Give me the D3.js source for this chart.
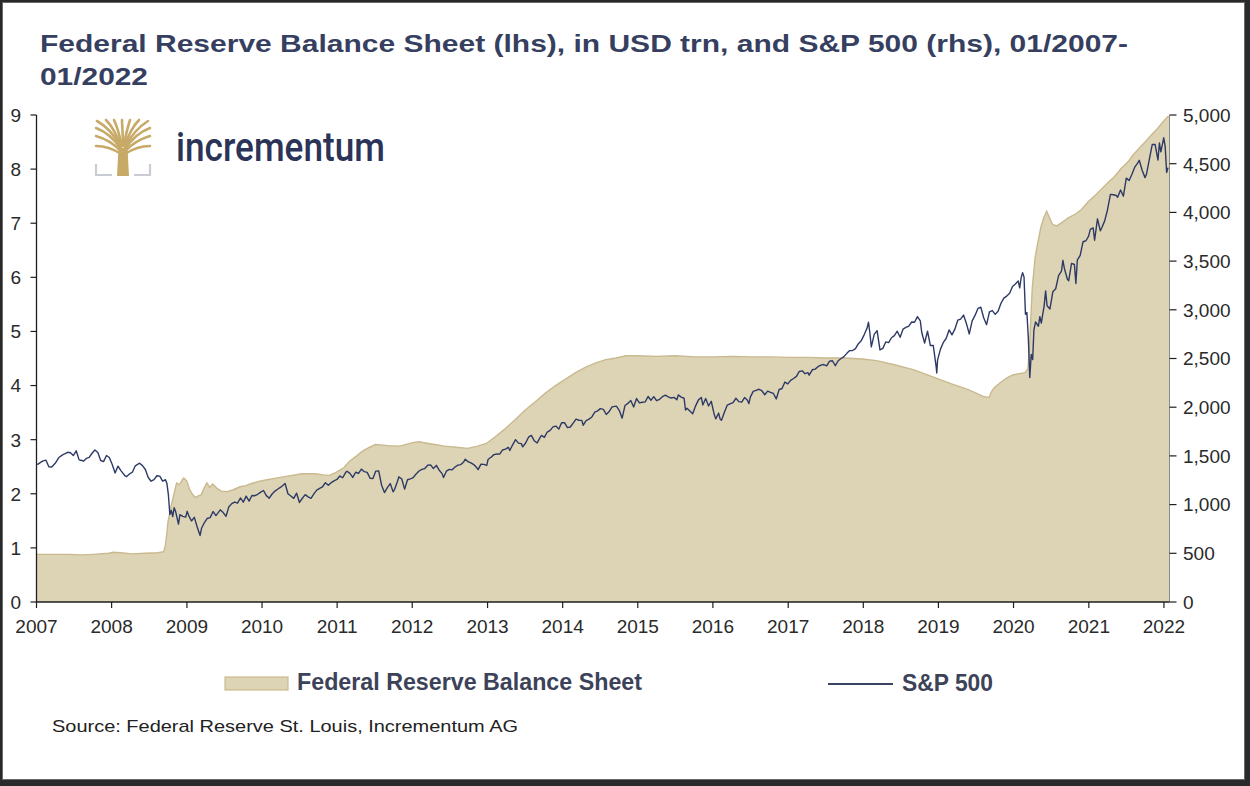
<!DOCTYPE html>
<html>
<head>
<meta charset="utf-8">
<script src="https://cdn.jsdelivr.net/npm/d3@7"></script>
<style>
  html, body { margin: 0; padding: 0; background: #fff; }
  svg { display: block; }
</style>
</head>
<body>
<svg id="chart" width="1250" height="786"></svg>
<script>
// ---------------- DATA ----------------
const titleLines = ["Federal Reserve Balance Sheet (lhs), in USD trn, and S&P 500 (rhs), 01/2007-", "01/2022"];
const seriesNames = ["Federal Reserve Balance Sheet", "S&P 500"];
const sourceText = "Source: Federal Reserve St. Louis, Incrementum AG";
const logoText = "incrementum";

const leftTicks = [0, 1, 2, 3, 4, 5, 6, 7, 8, 9];
const rightTicks = [0, 500, 1000, 1500, 2000, 2500, 3000, 3500, 4000, 4500, 5000];
const yearTicks = [2007, 2008, 2009, 2010, 2011, 2012, 2013, 2014, 2015, 2016, 2017, 2018, 2019, 2020, 2021, 2022];

// Federal Reserve balance sheet, USD trn (lhs)
const fedData = [
["2007-01-03",0.88],["2007-03-07",0.88],["2007-06-06",0.88],["2007-08-15",0.87],["2007-10-03",0.88],["2007-12-19",0.90],
["2008-01-09",0.92],["2008-02-13",0.91],["2008-04-09",0.89],["2008-06-11",0.90],["2008-08-13",0.91],["2008-09-10",0.93],
["2008-09-17",1.02],["2008-09-24",1.22],["2008-10-01",1.48],["2008-10-15",1.75],["2008-10-29",1.98],["2008-11-12",2.20],
["2008-11-26",2.17],["2008-12-10",2.26],["2008-12-17",2.29],["2008-12-31",2.24],["2009-01-14",2.08],["2009-01-28",1.99],
["2009-02-11",1.93],["2009-02-25",1.96],["2009-03-11",1.98],["2009-03-25",2.10],["2009-04-08",2.20],["2009-04-22",2.12],
["2009-05-06",2.18],["2009-05-27",2.10],["2009-06-17",2.05],["2009-07-15",2.04],["2009-08-12",2.07],["2009-09-16",2.13],
["2009-10-14",2.15],["2009-11-11",2.19],["2009-12-16",2.23],["2010-01-13",2.25],["2010-03-10",2.29],["2010-05-12",2.33],
["2010-07-14",2.37],["2010-09-15",2.37],["2010-10-27",2.35],["2010-11-24",2.34],["2010-12-29",2.40],["2011-02-02",2.48],
["2011-03-02",2.60],["2011-04-06",2.70],["2011-05-04",2.79],["2011-06-08",2.86],["2011-07-06",2.91],["2011-09-07",2.89],
["2011-11-02",2.88],["2011-12-28",2.94],["2012-02-01",2.96],["2012-04-04",2.92],["2012-06-06",2.88],["2012-08-01",2.86],
["2012-09-26",2.84],["2012-11-14",2.88],["2012-12-26",2.93],["2013-02-06",3.05],["2013-03-27",3.20],["2013-05-15",3.37],
["2013-07-03",3.55],["2013-08-21",3.70],["2013-10-09",3.86],["2013-11-27",4.00],["2014-01-15",4.12],["2014-03-05",4.24],
["2014-04-23",4.34],["2014-06-11",4.42],["2014-07-30",4.48],["2014-09-17",4.51],["2014-11-05",4.55],["2014-12-31",4.55],
["2015-04-01",4.54],["2015-07-01",4.55],["2015-10-07",4.53],["2016-01-06",4.53],["2016-04-06",4.54],["2016-07-06",4.53],
["2016-10-05",4.53],["2017-01-04",4.52],["2017-04-05",4.52],["2017-07-05",4.51],["2017-10-04",4.51],["2017-12-27",4.49],
["2018-03-07",4.46],["2018-06-06",4.38],["2018-09-05",4.29],["2018-12-05",4.16],["2019-03-06",4.03],["2019-05-29",3.92],
["2019-08-07",3.80],["2019-09-04",3.78],["2019-09-18",3.90],["2019-10-02",3.97],["2019-11-06",4.08],["2019-12-04",4.15],
["2019-12-31",4.20],["2020-01-29",4.22],["2020-02-26",4.24],["2020-03-11",4.31],["2020-03-18",4.67],["2020-03-25",5.25],
["2020-04-01",5.80],["2020-04-15",6.37],["2020-04-29",6.66],["2020-05-13",6.93],["2020-05-27",7.10],["2020-06-10",7.22],
["2020-06-24",7.10],["2020-07-08",6.98],["2020-07-29",6.95],["2020-08-26",7.02],["2020-09-23",7.10],["2020-10-28",7.17],
["2020-11-25",7.25],["2020-12-30",7.40],["2021-02-03",7.52],["2021-03-03",7.63],["2021-04-07",7.76],["2021-05-05",7.86],
["2021-06-09",8.02],["2021-07-07",8.12],["2021-08-04",8.26],["2021-09-08",8.41],["2021-10-06",8.52],["2021-11-03",8.64],
["2021-12-01",8.75],["2021-12-29",8.88],["2022-01-19",8.97]
];

// S&P 500 index level (rhs)
const spxData = [
["2007-01-05",1410],["2007-01-19",1431],["2007-02-02",1449],["2007-02-16",1456],["2007-03-02",1388],["2007-03-16",1386],
["2007-04-02",1424],["2007-04-20",1484],["2007-05-04",1505],["2007-05-18",1522],["2007-06-01",1537],["2007-06-15",1533],
["2007-06-29",1503],["2007-07-13",1552],["2007-07-27",1459],["2007-08-10",1453],["2007-08-17",1445],["2007-08-31",1474],
["2007-09-14",1484],["2007-09-28",1527],["2007-10-12",1561],["2007-10-26",1535],["2007-11-09",1453],["2007-11-23",1441],
["2007-12-07",1504],["2007-12-21",1484],
["2008-01-04",1411],["2008-01-18",1325],["2008-02-01",1395],["2008-02-15",1349],["2008-03-07",1294],["2008-03-14",1288],
["2008-03-28",1315],["2008-04-11",1332],["2008-04-25",1398],["2008-05-16",1425],["2008-05-30",1400],["2008-06-13",1360],
["2008-06-27",1278],["2008-07-11",1240],["2008-07-25",1257],["2008-08-08",1296],["2008-08-22",1292],["2008-09-05",1242],
["2008-09-19",1255],["2008-09-26",1213],["2008-10-03",1099],["2008-10-10",899],["2008-10-17",940],["2008-10-24",877],
["2008-10-31",968],["2008-11-07",930],["2008-11-21",800],["2008-11-28",896],["2008-12-12",879],["2008-12-26",872],
["2009-01-02",931],["2009-01-09",890],["2009-01-23",832],["2009-02-06",869],["2009-02-20",770],["2009-03-06",683],
["2009-03-13",757],["2009-03-27",816],["2009-04-09",857],["2009-04-24",866],["2009-05-08",929],["2009-05-22",887],
["2009-06-12",946],["2009-06-26",918],["2009-07-10",880],["2009-07-24",979],["2009-08-07",1010],["2009-08-21",1026],
["2009-09-04",1016],["2009-09-18",1068],["2009-10-02",1025],["2009-10-16",1087],["2009-10-30",1036],["2009-11-13",1093],
["2009-11-27",1091],["2009-12-11",1106],["2009-12-24",1126],
["2010-01-08",1145],["2010-01-22",1092],["2010-02-05",1066],["2010-02-19",1109],["2010-03-05",1139],["2010-03-19",1160],
["2010-04-02",1179],["2010-04-23",1217],["2010-05-07",1111],["2010-05-21",1088],["2010-06-04",1064],["2010-06-18",1117],
["2010-07-02",1022],["2010-07-16",1065],["2010-07-30",1102],["2010-08-13",1079],["2010-08-27",1065],["2010-09-10",1110],
["2010-09-24",1149],["2010-10-08",1166],["2010-10-22",1183],["2010-11-05",1225],["2010-11-19",1199],["2010-12-03",1225],
["2010-12-17",1244],["2010-12-31",1258],
["2011-01-14",1293],["2011-01-28",1276],["2011-02-11",1329],["2011-02-18",1343],["2011-03-04",1321],["2011-03-18",1279],
["2011-04-01",1332],["2011-04-15",1320],["2011-04-29",1364],["2011-05-13",1338],["2011-05-27",1331],["2011-06-10",1271],
["2011-06-24",1268],["2011-07-08",1344],["2011-07-22",1345],["2011-08-05",1199],["2011-08-19",1124],["2011-09-02",1174],
["2011-09-16",1216],["2011-09-30",1131],["2011-10-07",1155],["2011-10-21",1238],["2011-10-28",1285],["2011-11-11",1263],
["2011-11-25",1159],["2011-12-09",1255],["2011-12-23",1265],
["2012-01-06",1278],["2012-01-20",1315],["2012-02-03",1345],["2012-02-17",1361],["2012-03-02",1370],["2012-03-16",1404],
["2012-03-30",1408],["2012-04-13",1370],["2012-04-27",1403],["2012-05-11",1353],["2012-05-25",1318],["2012-06-01",1278],
["2012-06-15",1343],["2012-06-29",1362],["2012-07-13",1357],["2012-07-27",1386],["2012-08-10",1405],["2012-08-24",1411],
["2012-09-07",1438],["2012-09-14",1466],["2012-09-28",1441],["2012-10-12",1429],["2012-10-26",1411],["2012-11-09",1380],
["2012-11-16",1359],["2012-11-30",1416],["2012-12-14",1413],["2012-12-28",1402],
["2013-01-04",1466],["2013-01-18",1486],["2013-02-01",1513],["2013-02-15",1520],["2013-03-01",1518],["2013-03-15",1561],
["2013-03-29",1569],["2013-04-12",1588],["2013-04-19",1555],["2013-05-03",1614],["2013-05-17",1667],["2013-05-31",1631],
["2013-06-14",1626],["2013-06-21",1593],["2013-07-05",1632],["2013-07-19",1692],["2013-08-02",1710],["2013-08-16",1655],
["2013-08-30",1633],["2013-09-13",1688],["2013-09-20",1710],["2013-10-04",1691],["2013-10-18",1745],["2013-11-01",1762],
["2013-11-15",1798],["2013-11-29",1806],["2013-12-13",1775],["2013-12-27",1841],
["2014-01-10",1842],["2014-01-24",1790],["2014-02-07",1797],["2014-02-21",1836],["2014-03-07",1878],["2014-03-21",1866],
["2014-04-04",1865],["2014-04-11",1815],["2014-04-25",1863],["2014-05-09",1878],["2014-05-23",1900],["2014-06-06",1949],
["2014-06-20",1962],["2014-07-03",1985],["2014-07-18",1978],["2014-08-01",1925],["2014-08-15",1955],["2014-08-29",2003],
["2014-09-19",2011],["2014-10-03",1968],["2014-10-17",1887],["2014-10-31",2018],["2014-11-14",2039],["2014-11-28",2068],
["2014-12-12",2002],["2014-12-26",2089],
["2015-01-09",2044],["2015-01-23",2051],["2015-02-06",2055],["2015-02-20",2110],["2015-03-06",2071],["2015-03-20",2108],
["2015-04-02",2067],["2015-04-17",2081],["2015-05-01",2108],["2015-05-15",2123],["2015-05-29",2107],["2015-06-12",2094],
["2015-06-26",2101],["2015-07-10",2076],["2015-07-17",2126],["2015-07-31",2104],["2015-08-14",2092],["2015-08-21",1971],
["2015-08-28",1989],["2015-09-11",1961],["2015-09-25",1932],["2015-10-09",2014],["2015-10-23",2075],["2015-11-06",2099],
["2015-11-13",2023],["2015-11-27",2090],["2015-12-11",2012],["2015-12-24",2061],
["2016-01-08",1922],["2016-01-15",1880],["2016-01-29",1940],["2016-02-05",1880],["2016-02-12",1865],["2016-02-26",1948],
["2016-03-11",2022],["2016-03-24",2035],["2016-04-08",2048],["2016-04-22",2092],["2016-05-06",2057],["2016-05-20",2052],
["2016-06-03",2099],["2016-06-17",2071],["2016-06-24",2037],["2016-07-01",2103],["2016-07-15",2162],["2016-07-29",2173],
["2016-08-12",2184],["2016-08-26",2169],["2016-09-09",2128],["2016-09-23",2165],["2016-10-07",2153],["2016-10-21",2141],
["2016-11-04",2085],["2016-11-18",2182],["2016-12-02",2192],["2016-12-16",2258],["2016-12-30",2239],
["2017-01-13",2275],["2017-01-27",2295],["2017-02-10",2316],["2017-02-24",2367],["2017-03-10",2373],["2017-03-24",2344],
["2017-04-07",2355],["2017-04-13",2329],["2017-04-28",2384],["2017-05-12",2391],["2017-05-26",2416],["2017-06-09",2432],
["2017-06-23",2438],["2017-07-07",2425],["2017-07-21",2473],["2017-08-04",2477],["2017-08-18",2426],["2017-09-01",2477],
["2017-09-15",2500],["2017-09-29",2519],["2017-10-13",2553],["2017-10-27",2581],["2017-11-10",2582],["2017-11-24",2602],
["2017-12-08",2652],["2017-12-22",2683],
["2018-01-05",2743],["2018-01-19",2810],["2018-01-26",2873],["2018-02-02",2762],["2018-02-09",2620],["2018-02-23",2747],
["2018-03-09",2786],["2018-03-23",2588],["2018-04-06",2604],["2018-04-20",2670],["2018-05-04",2663],["2018-05-18",2713],
["2018-06-01",2735],["2018-06-15",2780],["2018-06-29",2718],["2018-07-13",2801],["2018-07-27",2819],["2018-08-10",2833],
["2018-08-24",2875],["2018-09-07",2872],["2018-09-21",2930],["2018-10-05",2886],["2018-10-12",2767],["2018-10-26",2659],
["2018-11-09",2781],["2018-11-23",2633],["2018-12-07",2633],["2018-12-21",2417],["2018-12-24",2351],["2018-12-28",2486],
["2019-01-11",2596],["2019-01-25",2665],["2019-02-08",2708],["2019-02-22",2793],["2019-03-08",2743],["2019-03-22",2801],
["2019-04-05",2893],["2019-04-19",2905],["2019-05-03",2946],["2019-05-17",2860],["2019-05-31",2752],["2019-06-14",2887],
["2019-06-28",2942],["2019-07-12",3014],["2019-07-26",3026],["2019-08-09",2919],["2019-08-23",2847],["2019-09-06",2979],
["2019-09-20",2992],["2019-10-04",2953],["2019-10-18",2986],["2019-11-01",3067],["2019-11-15",3120],["2019-11-29",3141],
["2019-12-13",3169],["2019-12-27",3240],
["2020-01-10",3265],["2020-01-24",3295],["2020-01-31",3226],["2020-02-07",3328],["2020-02-14",3380],["2020-02-21",3338],
["2020-02-28",2954],["2020-03-06",2972],["2020-03-13",2711],["2020-03-20",2305],["2020-03-27",2541],["2020-04-03",2489],
["2020-04-09",2790],["2020-04-17",2875],["2020-05-01",2831],["2020-05-08",2930],["2020-05-15",2864],["2020-05-29",3044],
["2020-06-05",3194],["2020-06-12",3041],["2020-06-26",3009],["2020-07-10",3185],["2020-07-24",3216],["2020-08-07",3351],
["2020-08-21",3397],["2020-08-28",3508],["2020-09-04",3427],["2020-09-18",3319],["2020-09-25",3298],["2020-10-09",3477],
["2020-10-23",3465],["2020-10-30",3270],["2020-11-06",3509],["2020-11-20",3558],["2020-12-04",3699],["2020-12-18",3709],
["2020-12-31",3756],
["2021-01-08",3825],["2021-01-22",3841],["2021-01-29",3714],["2021-02-12",3934],["2021-02-26",3811],["2021-03-05",3842],
["2021-03-19",3913],["2021-04-01",4020],["2021-04-16",4185],["2021-04-30",4181],["2021-05-14",4174],["2021-05-21",4156],
["2021-06-04",4230],["2021-06-18",4166],["2021-07-02",4352],["2021-07-16",4327],["2021-07-30",4395],["2021-08-13",4468],
["2021-08-27",4509],["2021-09-03",4535],["2021-09-17",4433],["2021-10-01",4357],["2021-10-08",4391],["2021-10-22",4545],
["2021-11-05",4697],["2021-11-19",4698],["2021-12-03",4538],["2021-12-10",4712],["2021-12-17",4621],["2021-12-31",4766],
["2022-01-07",4677],["2022-01-14",4410],["2022-01-21",4460]
];

// ---------------- RENDER ----------------
const parse = d3.timeParse("%Y-%m-%d");
const fed = fedData.map(d => ({date: parse(d[0]), value: d[1]}));
const spx = spxData.map(d => ({date: parse(d[0]), value: d[1]}));

const svg = d3.select("#chart");
const W = 1250, H = 786;
const plot = {left: 36.5, right: 1169.5, top: 115, bottom: 602};

// frame
svg.append("rect").attr("x", 0).attr("y", 0).attr("width", W).attr("height", H).attr("fill", "#2a2a2a");
svg.append("rect").attr("x", 2).attr("y", 2).attr("width", 1243).attr("height", 778).attr("fill", "#ffffff");
svg.append("rect").attr("x", 2.5).attr("y", 2.5).attr("width", 1242).attr("height", 777)
  .attr("fill", "none").attr("stroke", "#6a6a6a").attr("stroke-width", 1);

const x = d3.scaleTime()
  .domain([new Date(2007, 0, 1), new Date(2022, 0, 28)])
  .range([plot.left, plot.right]);
const yL = d3.scaleLinear().domain([0, 9]).range([plot.bottom, plot.top]);
const yR = d3.scaleLinear().domain([0, 5000]).range([plot.bottom, plot.top]);

// Fed area
const area = d3.area()
  .x(d => x(d.date))
  .y0(yL(0))
  .y1(d => yL(d.value))
  .curve(d3.curveLinear);
const fedArea = [{date: x.domain()[0], value: fed[0].value}, ...fed, {date: x.domain()[1], value: fed[fed.length-1].value}];
svg.append("path").datum(fedArea)
  .attr("d", area)
  .attr("fill", "#ddd3b5")
  .attr("stroke", "none");
svg.append("path").datum(fedArea)
  .attr("d", d3.line().x(d => x(d.date)).y(d => yL(d.value)))
  .attr("fill", "none")
  .attr("stroke", "#c9b98f")
  .attr("stroke-width", 1.4);

// S&P line
svg.append("path").datum(spx)
  .attr("d", d3.line().x(d => x(d.date)).y(d => yR(d.value)).curve(d3.curveLinear))
  .attr("fill", "none")
  .attr("stroke", "#2e3a66")
  .attr("stroke-width", 1.4)
  .attr("stroke-linejoin", "round");

// Axes
const tickFont = "19px 'Liberation Sans', Arial, sans-serif";
const axisColor = "#1e1e1e";

// left axis
const gL = svg.append("g");
gL.append("line").attr("x1", plot.left).attr("x2", plot.left).attr("y1", yL(9)).attr("y2", yL(0))
  .attr("stroke", axisColor).attr("stroke-width", 1.3);
leftTicks.forEach(t => {
  gL.append("line").attr("x1", plot.left - 6).attr("x2", plot.left).attr("y1", yL(t)).attr("y2", yL(t))
    .attr("stroke", axisColor).attr("stroke-width", 1.2);
  gL.append("text").attr("x", 21).attr("y", yL(t)).attr("dy", "0.36em")
    .attr("text-anchor", "end").style("font", tickFont).attr("fill", "#2a2a2a").text(t);
});

// right axis
const gR = svg.append("g");
gR.append("line").attr("x1", plot.right).attr("x2", plot.right).attr("y1", yR(5000)).attr("y2", yR(0))
  .attr("stroke", "#8a8a8a").attr("stroke-width", 1);
const fmt = d3.format(",");
rightTicks.forEach(t => {
  gR.append("line").attr("x1", plot.right).attr("x2", plot.right + 7).attr("y1", yR(t)).attr("y2", yR(t))
    .attr("stroke", axisColor).attr("stroke-width", 1.2);
  gR.append("text").attr("x", 1183).attr("y", yR(t)).attr("dy", "0.36em")
    .attr("text-anchor", "start").style("font", tickFont).attr("fill", "#2a2a2a").text(fmt(t));
});

// x axis
const gX = svg.append("g");
gX.append("line").attr("x1", plot.left).attr("x2", plot.right).attr("y1", plot.bottom).attr("y2", plot.bottom)
  .attr("stroke", axisColor).attr("stroke-width", 1.3);
yearTicks.forEach(yr => {
  const xx = x(new Date(yr, 0, 1));
  gX.append("line").attr("x1", xx).attr("x2", xx).attr("y1", plot.bottom).attr("y2", plot.bottom + 6)
    .attr("stroke", axisColor).attr("stroke-width", 1.2);
  gX.append("text").attr("x", xx).attr("y", 633).attr("text-anchor", "middle")
    .style("font", tickFont).attr("fill", "#2a2a2a").text(yr);
});

// Title
const titleColor = "#363f5f";
svg.append("text").attr("x", 40).attr("y", 52)
  .attr("textLength", 1088).attr("lengthAdjust", "spacingAndGlyphs")
  .style("font", "bold 24px 'Liberation Sans', Arial, sans-serif").attr("fill", titleColor)
  .text(titleLines[0]);
svg.append("text").attr("x", 40).attr("y", 85)
  .attr("textLength", 108).attr("lengthAdjust", "spacingAndGlyphs")
  .style("font", "bold 24px 'Liberation Sans', Arial, sans-serif").attr("fill", titleColor)
  .text(titleLines[1]);

// Logo (tree icon + word mark)
const logo = svg.append("g");
const gold = "#c8aa68";
const branches = [
  ["M121,154 C112,148 103,146 96,146", 2.6],
  ["M121,151 C112,142 103,138 96,136", 2.6],
  ["M121,149 C113,137 104,131 96,128", 2.6],
  ["M121,147 C114,134 106,126 97,121", 2.6],
  ["M121,146 C116,133 111,125 106,120", 2.6],
  ["M122,146 C119,133 117,126 114,120", 2.6],
  ["M123,146 C123,133 122,126 122,120", 2.6],
  ["M124,146 C126,133 128,126 130,120", 2.6],
  ["M125,146 C129,133 134,125 139,120", 2.6],
  ["M125,147 C132,134 140,126 148,121", 2.6],
  ["M125,149 C133,137 142,131 150,128", 2.6],
  ["M125,151 C134,142 143,138 150,136", 2.6],
  ["M125,154 C134,148 143,146 150,146", 2.6]
];
branches.forEach(b => logo.append("path").attr("d", b[0]).attr("fill", "none")
  .attr("stroke", gold).attr("stroke-width", b[1]).attr("stroke-linecap", "round"));
logo.append("path").attr("d", "M117,176 L118.5,148 L127.5,148 L129,176 Z").attr("fill", gold);
logo.append("path").attr("d", "M96,164 L96,175 L112,175").attr("fill", "none").attr("stroke", "#c9ccd5").attr("stroke-width", 2.2);
logo.append("path").attr("d", "M134,175 L150,175 L150,164").attr("fill", "none").attr("stroke", "#c9ccd5").attr("stroke-width", 2.2);
svg.append("text").attr("x", 176).attr("y", 161)
  .attr("textLength", 209).attr("lengthAdjust", "spacingAndGlyphs")
  .style("font", "500 40px Roboto, 'Liberation Sans', Arial, sans-serif").attr("fill", "#2b3458")
  .text(logoText);

// Legend
const legFont = "bold 24px 'Liberation Sans Narrow', 'Arial Narrow', 'Liberation Sans', sans-serif";
svg.append("rect").attr("x", 225).attr("y", 677).attr("width", 63).attr("height", 13)
  .attr("fill", "#ddd3b5").attr("stroke", "#cbbb8f").attr("stroke-width", 1.2);
svg.append("text").attr("x", 297).attr("y", 690)
  .attr("textLength", 345).attr("lengthAdjust", "spacingAndGlyphs")
  .style("font", legFont).attr("fill", "#3c4358").text(seriesNames[0]);
svg.append("line").attr("x1", 828).attr("x2", 893).attr("y1", 684).attr("y2", 684)
  .attr("stroke", "#3a4262").attr("stroke-width", 2);
svg.append("text").attr("x", 902).attr("y", 690.5)
  .attr("textLength", 91).attr("lengthAdjust", "spacingAndGlyphs")
  .style("font", legFont).attr("fill", "#3c4358").text(seriesNames[1]);

// Source
svg.append("text").attr("x", 52).attr("y", 732)
  .attr("textLength", 466).attr("lengthAdjust", "spacingAndGlyphs")
  .style("font", "17px 'Liberation Sans Narrow', 'Liberation Sans', Arial, sans-serif").attr("fill", "#222")
  .text(sourceText);
</script>
</body>
</html>
